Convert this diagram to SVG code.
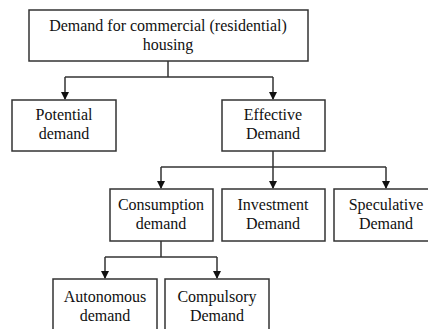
<svg xmlns="http://www.w3.org/2000/svg" width="428" height="329" viewBox="0 0 428 329">
<style>
.box{fill:#fff;stroke:#333;stroke-width:1.5}
.t{font-family:"Liberation Serif","DejaVu Serif",serif;font-size:16px;fill:#111;text-anchor:middle}
.c{fill:none;stroke:#333;stroke-width:1.5}
</style>
<defs>
<marker id="ah" markerWidth="8" markerHeight="8" refX="7" refY="4" orient="auto" markerUnits="userSpaceOnUse">
<path d="M0,0 L8,4 L0,8 Z" fill="#111"/>
</marker>
</defs>
<rect width="428" height="329" fill="#fff"/>
<g id="connectors">
<path class="c" d="M168,61 V77"/>
<path class="c" d="M65,77 H273"/>
<path class="c" d="M65,77 V99" marker-end="url(#ah)"/>
<path class="c" d="M273,77 V99" marker-end="url(#ah)"/>
<path class="c" d="M273,151 V167"/>
<path class="c" d="M161,167 H386"/>
<path class="c" d="M161,167 V188" marker-end="url(#ah)"/>
<path class="c" d="M273,167 V188" marker-end="url(#ah)"/>
<path class="c" d="M386,167 V188" marker-end="url(#ah)"/>
<path class="c" d="M161,241 V257"/>
<path class="c" d="M105,257 H217"/>
<path class="c" d="M105,257 V278" marker-end="url(#ah)"/>
<path class="c" d="M217,257 V278" marker-end="url(#ah)"/>
</g>
<g id="root">
<rect class="box" x="29" y="10" width="279" height="51"/>
<text class="t" x="168" y="31">Demand for commercial (residential)</text>
<text class="t" x="168" y="50">housing</text>
</g>
<g id="potential">
<rect class="box" x="12" y="100" width="104" height="51"/>
<text class="t" x="64" y="120">Potential</text>
<text class="t" x="64" y="139">demand</text>
</g>
<g id="effective">
<rect class="box" x="222" y="100" width="103" height="51"/>
<text class="t" x="273" y="120">Effective</text>
<text class="t" x="273" y="139">Demand</text>
</g>
<g id="consumption">
<rect class="box" x="110" y="189" width="103" height="52"/>
<text class="t" x="161" y="210">Consumption</text>
<text class="t" x="161" y="229">demand</text>
</g>
<g id="investment">
<rect class="box" x="222" y="189" width="103" height="52"/>
<text class="t" x="273" y="210">Investment</text>
<text class="t" x="273" y="229">Demand</text>
</g>
<g id="speculative">
<rect class="box" x="334" y="189" width="104" height="52"/>
<text class="t" x="386" y="210">Speculative</text>
<text class="t" x="386" y="229">Demand</text>
</g>
<g id="autonomous">
<rect class="box" x="53" y="279" width="104" height="60"/>
<text class="t" x="105" y="302">Autonomous</text>
<text class="t" x="105" y="321">demand</text>
</g>
<g id="compulsory">
<rect class="box" x="165" y="279" width="104" height="60"/>
<text class="t" x="217" y="302">Compulsory</text>
<text class="t" x="217" y="321">Demand</text>
</g>
</svg>
